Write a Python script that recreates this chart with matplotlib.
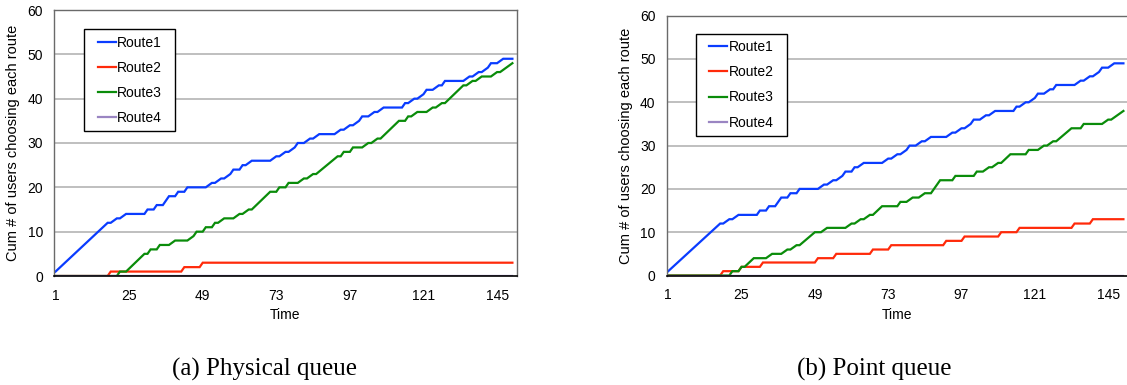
import matplotlib
matplotlib.use("Agg")
import matplotlib.pyplot as plt
from matplotlib.path import Path

plt.rcParams['font.family'] = ['Liberation Sans', 'DejaVu Sans']

# breakpoints (time, cumulative users)
r1_t = [1, 18, 19, 21, 22, 24, 30, 31, 33, 34, 36, 37, 38, 40, 41, 43, 44, 50, 52, 53, 55, 56,
        58, 59, 61, 62, 63, 65, 71, 73, 74, 76, 77, 79, 80, 82, 84, 85, 87, 92, 94, 95, 97, 98,
        100, 101, 103, 105, 106, 108, 114, 115, 116, 118, 119, 121, 122, 124, 126, 127, 128,
        134, 136, 137, 139, 140, 142, 143, 145, 147, 150]
r1_v = [1, 12, 12, 13, 13, 14, 14, 15, 15, 16, 16, 17, 18, 18, 19, 19, 20, 20, 21, 21, 22, 22,
        23, 24, 24, 25, 25, 26, 26, 27, 27, 28, 28, 29, 30, 30, 31, 31, 32, 32, 33, 33, 34, 34,
        35, 36, 36, 37, 37, 38, 38, 39, 39, 40, 40, 41, 42, 42, 43, 43, 44,
        44, 45, 45, 46, 46, 47, 48, 48, 49, 49]

# (a) physical queue
a2_t = [1, 18, 19, 42, 43, 48, 49, 150]
a2_v = [0, 0, 1, 1, 2, 2, 3, 3]
a3_t = [1, 21, 22, 24, 30, 31, 32, 34, 35, 38, 40, 44, 46, 47, 49, 50, 52, 53, 54, 56, 59, 61,
        62, 64, 65, 71, 73, 74, 76, 77, 80, 82, 83, 85, 86, 93, 94, 95, 97, 98, 101, 103, 104,
        106, 107, 113, 115, 116, 117, 119, 122, 124, 125, 127, 128, 134, 135, 137, 138, 140,
        143, 145, 146, 150]
a3_v = [0, 0, 1, 1, 5, 5, 6, 6, 7, 7, 8, 8, 9, 10, 10, 11, 11, 12, 12, 13, 13, 14,
        14, 15, 15, 19, 19, 20, 20, 21, 21, 22, 22, 23, 23, 27, 27, 28, 28, 29, 29, 30, 30,
        31, 31, 35, 35, 36, 36, 37, 37, 38, 38, 39, 39, 43, 43, 44, 44, 45,
        45, 46, 46, 48]

# (b) point queue
b2_t = [1, 18, 19, 24, 25, 31, 32, 49, 50, 55, 56, 67, 68, 73, 74, 91, 92, 97, 98, 109, 110,
        115, 116, 133, 134, 139, 140, 150]
b2_v = [0, 0, 1, 1, 2, 2, 3, 3, 4, 4, 5, 5, 6, 6, 7, 7, 8, 8, 9, 9, 10,
        10, 11, 11, 12, 12, 13, 13]
b3_t = [1, 21, 22, 24, 25, 26, 29, 33, 35, 38, 40, 41, 43, 44, 49, 51, 53, 59, 61, 62, 64, 65,
        67, 68, 71, 76, 77, 79, 81, 83, 85, 87, 90, 94, 95, 101, 102, 104, 106, 107, 109, 110,
        113, 118, 119, 122, 124, 125, 127, 128, 133, 136, 137, 143, 145, 146, 150]
b3_v = [0, 0, 1, 1, 2, 2, 4, 4, 5, 5, 6, 6, 7, 7, 10, 10, 11, 11, 12, 12, 13, 13,
        14, 14, 16, 16, 17, 17, 18, 18, 19, 19, 22, 22, 23, 23, 24, 24, 25, 25, 26, 26,
        28, 28, 29, 29, 30, 30, 31, 31, 34, 34, 35, 35, 36, 36, 38]

r4_t = [1, 150]
r4_v = [0, 0]

names = ['Route1', 'Route2', 'Route3', 'Route4']
colors = ['#0a3cff', '#ff2a0a', '#0a8c0a', '#9a85c2']
xticks = [1, 25, 49, 73, 97, 121, 145]


def wide_box(x0, y0, width, height, mutation_size):
    # legend frame with extra room left and right, like the Excel one
    px = 0.5 * mutation_size
    x0 -= px
    width += 2 * px
    return Path([(x0, y0), (x0 + width, y0), (x0 + width, y0 + height),
                 (x0, y0 + height), (x0, y0)], closed=True)


fig = plt.figure(figsize=(11.27, 3.85), dpi=100)
W, H = 1127.0, 385.0
ax1 = fig.add_axes([54 / W, 1 - 276 / H, 463 / W, 266 / H])
ax2 = fig.add_axes([666.7 / W, 1 - 275.5 / H, 461.3 / W, 259.8 / H])

panels = [
    (ax1, [(r1_t, r1_v), (a2_t, a2_v), (a3_t, a3_v), (r4_t, r4_v)], (0.0805, 0.9274)),
    (ax2, [(r1_t, r1_v), (b2_t, b2_v), (b3_t, b3_v), (r4_t, r4_v)], (0.0780, 0.9296)),
]

for ax, series, leg_xy in panels:
    for (t, v), name, c in zip(series, names, colors):
        ax.plot(t, v, color=c, lw=1.6, label=name, solid_joinstyle='miter')
    ax.set_xlim(0.5, 151.5)
    ax.set_ylim(0, 60)
    ax.set_xticks(xticks)
    ax.set_yticks(range(0, 61, 10))
    for y in range(10, 60, 10):
        ax.axhline(y, color='#b4b4b4', lw=1.2, zorder=0)
    ax.tick_params(length=0, labelsize=10, colors='black')
    ax.tick_params(axis='y', pad=8)
    ax.tick_params(axis='x', pad=9)
    for s in ['left', 'top', 'right']:
        ax.spines[s].set_color('#6a6a6a')
        ax.spines[s].set_linewidth(1.0)
    ax.spines['bottom'].set_color('black')
    ax.spines['bottom'].set_linewidth(1.2)
    ax.set_xlabel('Time', fontsize=10, labelpad=4)
    ax.set_ylabel('Cum # of users choosing each route', fontsize=10.5, labelpad=5)
    leg = ax.legend(loc='upper left', bbox_to_anchor=leg_xy, borderaxespad=0,
                    fontsize=10, fancybox=False, framealpha=1, edgecolor='black',
                    handlelength=1.3, handletextpad=0.1, labelspacing=0.8,
                    borderpad=0.45)
    leg.get_frame().set_linewidth(1.0)
    leg.legendPatch.set_boxstyle(wide_box)

fig.text(265 / W, 0.025, '(a) Physical queue', ha='center', va='baseline',
         family=['Liberation Serif', 'DejaVu Serif'], fontsize=18)
fig.text(874 / W, 0.025, '(b) Point queue', ha='center', va='baseline',
         family=['Liberation Serif', 'DejaVu Serif'], fontsize=18)

fig.savefig('out.png', dpi=100)
